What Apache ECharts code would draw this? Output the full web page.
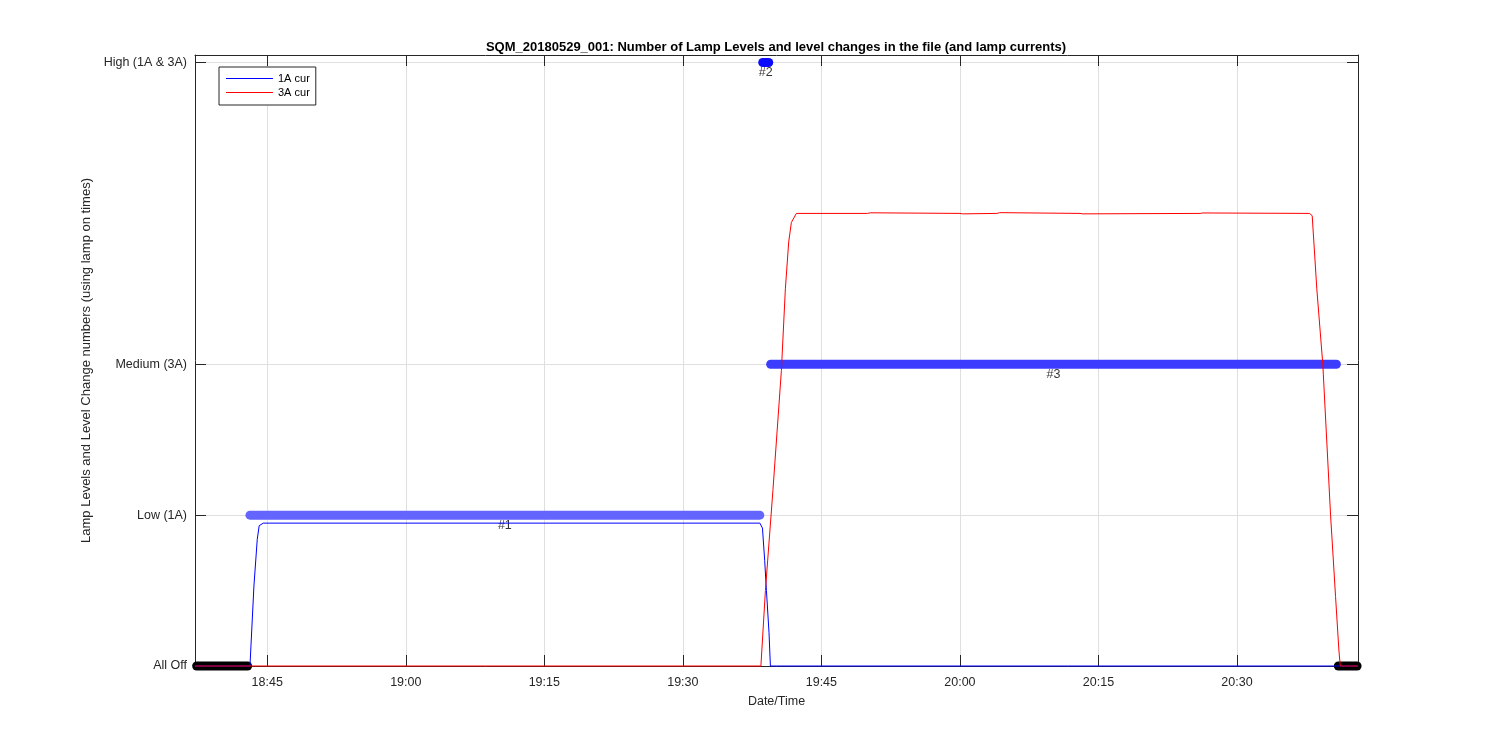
<!DOCTYPE html>
<html>
<head>
<meta charset="utf-8">
<script src="https://cdn.jsdelivr.net/npm/echarts@6/dist/echarts.min.js"></script>
<style>html,body{margin:0;padding:0;background:#fff}#c{width:1500px;height:750px}</style>
</head>
<body>
<div id="c"></div>
<script>
// ---- data (time in minutes since midnight) ----
const xMin = 1117.18, xMax = 1243.1;
const xTickValues = [1125, 1140, 1155, 1170, 1185, 1200, 1215, 1230];
const xTickLabels = ['18:45', '19:00', '19:15', '19:30', '19:45', '20:00', '20:15', '20:30'];
const levelValues = [0, 1, 2, 4];
const levelNames = ['All Off', 'Low (1A)', 'Medium (3A)', 'High (1A & 3A)'];

const levelSegStart = [1117.36, 1123.13, 1178.65, 1179.51, 1240.97];
const levelSegEnd   = [1122.88, 1178.33, 1179.30, 1240.76, 1243.0];
const levelSegLevel = [0, 1, 4, 2, 0];
const levelSegName  = ['', '#1', '#2', '#3', ''];

const cur1aTime  = [1117.18, 1123.13, 1123.56, 1123.92, 1124.13, 1124.57, 1178.34, 1178.62, 1178.86, 1179.05, 1179.33, 1179.48, 1243.1];
const cur1aValue = [0, 0, 0.53, 0.84, 0.93, 0.947, 0.947, 0.914, 0.70, 0.50, 0.22, 0, 0];

const cur3aTime  = [1117.18, 1178.45, 1178.94, 1179.76, 1180.67, 1181.10, 1181.46, 1181.75, 1182.29, 1190, 1190.3, 1200, 1200.3, 1204, 1204.3, 1213, 1213.3, 1226, 1226.3, 1237.85, 1238.14, 1238.64, 1239.29, 1240.13, 1240.67, 1241.03, 1241.18, 1243.1];
const cur3aValue = [0, 0, 0.50, 1.17, 1.96, 2.50, 2.81, 2.94, 3.0, 3.0, 3.004, 3.0, 2.997, 3.0, 3.005, 3.0, 2.997, 3.0, 3.003, 3.0, 2.985, 2.5, 2.0, 1.0, 0.46, 0.106, 0, 0];

// ---- styles ----
const segColors = ['#000000', '#6464ff', '#0a0aff', '#3c3cff', '#000000'];
const axisColor = '#262626';
const gridColor = '#dfdfdf';
const FONT = 'Liberation Sans, Arial, sans-serif';

const zip = (a, b) => a.map((v, i) => [v, b[i]]);

const series = [];
levelSegStart.forEach((s, i) => {
  series.push({
    type: 'line', name: 'lvl' + i, xAxisIndex: 0, yAxisIndex: 0,
    data: [[s, levelSegLevel[i]], [levelSegEnd[i], levelSegLevel[i]]],
    symbol: 'none', clip: false, z: 2, silent: true,
    lineStyle: { width: 9, color: segColors[i], cap: 'round' }
  });
});
series.push({
  type: 'scatter', name: 'labels', z: 4, silent: true,
  symbolSize: 1, itemStyle: { color: 'rgba(0,0,0,0)' },
  data: levelSegName.map((n, i) => n ? { value: [(levelSegStart[i] + levelSegEnd[i]) / 2, levelSegLevel[i]], name: n } : null).filter(d => d),
  label: { show: true, position: 'bottom', distance: 3, formatter: p => p.name, color: '#000', fontSize: 12.5, fontFamily: FONT }
});
series.push({
  type: 'line', name: '1A cur', data: zip(cur1aTime, cur1aValue), symbol: 'none', z: 5, clip: false,
  lineStyle: { width: 1, color: '#0000ff' }, itemStyle: { color: '#0000ff' }
});
series.push({
  type: 'line', name: '3A cur', data: zip(cur3aTime, cur3aValue), symbol: 'none', z: 6, clip: false,
  lineStyle: { width: 1, color: '#ff0000' }, itemStyle: { color: '#ff0000' }
});

const fmtX = v => { const i = xTickValues.indexOf(v); return i >= 0 ? xTickLabels[i] : ''; };
const fmtY = v => { const i = levelValues.indexOf(v); return i >= 0 ? levelNames[i] : ''; };

const chart = echarts.init(document.getElementById('c'), null, { renderer: 'canvas' });
chart.setOption({
  animation: false,
  backgroundColor: '#fff',
  title: {
    text: 'SQM_20180529_001: Number of Lamp Levels and level changes in the file (and lamp currents)',
    left: 771, top: 36, textAlign: 'center',
    textStyle: { fontSize: 13, fontWeight: 'bold', color: '#000', fontFamily: FONT }
  },
  legend: {
    data: ['1A cur', '3A cur'], orient: 'vertical', left: 219, top: 67,
    icon: 'rect', itemWidth: 47, itemHeight: 1, itemGap: 3,
    padding: [6, 6, 7, 7], borderColor: axisColor, borderWidth: 1, backgroundColor: '#fff',
    textStyle: { fontSize: 11, color: '#000', fontFamily: FONT, lineHeight: 11 }
  },
  grid: { left: 195, right: 142, top: 55, bottom: 84, containLabel: false },
  xAxis: [{
    type: 'value', min: xMin, max: xMax, position: 'bottom',
    name: 'Date/Time', nameLocation: 'middle', nameGap: 29,
    nameTextStyle: { fontSize: 12.5, color: axisColor, fontFamily: FONT },
    axisLine: { show: true, lineStyle: { color: axisColor, width: 1 } },
    axisTick: { show: true, inside: true, length: 11, customValues: xTickValues, lineStyle: { color: axisColor } },
    axisLabel: { customValues: xTickValues, formatter: fmtX, margin: 10, fontSize: 12.5, color: axisColor, fontFamily: FONT },
    splitLine: { show: true, lineStyle: { color: gridColor, width: 1 } }
  }, {
    type: 'value', min: xMin, max: xMax, position: 'top',
    axisLine: { show: true, onZero: false, lineStyle: { color: axisColor, width: 1 } },
    axisTick: { show: true, inside: true, length: 11, customValues: xTickValues, lineStyle: { color: axisColor } },
    axisLabel: { show: false }, splitLine: { show: false }
  }],
  yAxis: [{
    type: 'value', min: 0, max: 4.05, position: 'left',
    name: 'Lamp Levels and Level Change numbers (using lamp on times)', nameLocation: 'middle', nameRotate: 90, nameGap: 87,
    nameTextStyle: { fontSize: 13, color: axisColor, fontFamily: FONT },
    axisLine: { show: true, onZero: false, lineStyle: { color: axisColor, width: 1 } },
    axisTick: { show: true, inside: true, length: 11, customValues: levelValues, lineStyle: { color: axisColor } },
    axisLabel: { customValues: levelValues, formatter: fmtY, margin: 8, fontSize: 12.5, color: axisColor, fontFamily: FONT },
    splitLine: { show: true, lineStyle: { color: gridColor, width: 1 } }
  }, {
    type: 'value', min: 0, max: 4.05, position: 'right',
    axisLine: { show: true, onZero: false, lineStyle: { color: axisColor, width: 1 } },
    axisTick: { show: true, inside: true, length: 11, customValues: levelValues, lineStyle: { color: axisColor } },
    axisLabel: { show: false }, splitLine: { show: false }
  }],
  series: series
});
</script>
</body>
</html>
